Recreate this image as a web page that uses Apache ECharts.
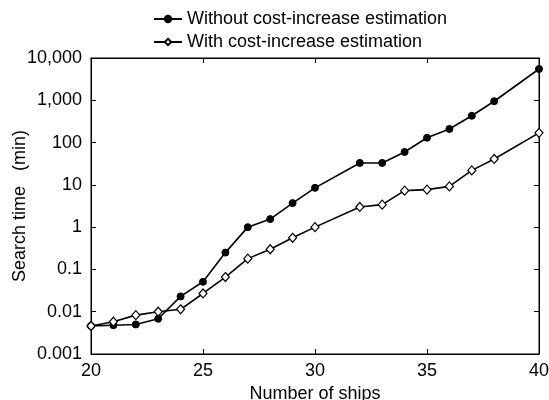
<!DOCTYPE html>
<html><head><meta charset="utf-8">
<script src="https://cdn.jsdelivr.net/npm/echarts@6/dist/echarts.min.js"></script>
<style>html,body{margin:0;padding:0;background:#fff}#c{width:549px;height:400px}</style>
</head><body><div id="c"></div>
<script>
const shipsWithout = [20,21,22,23,24,25,26,27,28,29,30,32,33,34,35,36,37,38,40];
const timeWithout = [0.0046,0.0048,0.005,0.0068,0.023,0.051,0.25,1.0,1.55,3.7,8.5,33,33,60,130,210,430,950,5500];
const shipsWith = [20,21,22,23,24,25,26,27,28,29,30,32,33,34,35,36,37,38,40];
const timeWith = [0.0046,0.0058,0.0083,0.01,0.0114,0.027,0.066,0.18,0.30,0.56,1.0,3.0,3.4,7.3,7.7,9.2,22,41,170];
const yTickLabels = {"0.001":"0.001","0.01":"0.01","0.1":"0.1","1":"1","10":"10","100":"100","1000":"1,000","10000":"10,000"};
const xTicks = [20,25,30,35,40];

const font = "Liberation Sans, Arial, sans-serif";
const chart = echarts.init(document.getElementById('c'), null, {renderer:'canvas'});
function pairs(xs, ys){ return xs.map((x,i)=>[x, ys[i]]); }
function fmtY(v){
  const k = String(Number(v.toPrecision(6)));
  return yTickLabels[k] !== undefined ? yTickLabels[k] : '';
}
const axisLine = {show:true, lineStyle:{color:'#000', width:1}};
chart.setOption({
  animation:false,
  backgroundColor:'#fff',
  grid:{left:91, right:10, top:58, bottom:46, outerBoundsMode:'none', containLabel:false, show:true, borderColor:'#000', borderWidth:1, backgroundColor:'transparent'},
  legend:{
    orient:'vertical', left:148, top:5, itemGap:5, itemWidth:28, itemHeight:8,
    textStyle:{fontFamily:font, fontSize:18, color:'#000'},
    data:['Without cost-increase estimation','With cost-increase estimation']
  },
  xAxis:[{
    type:'value', min:xTicks[0], max:xTicks[xTicks.length-1], interval:5,
    name:'Number of ships', nameLocation:'middle', nameGap:31, nameMoveOverlap:false,
    nameTextStyle:{fontFamily:font, fontSize:18, color:'#000'},
    axisLine:axisLine, axisTick:{show:true, inside:true, length:5, lineStyle:{color:'#000'}},
    axisLabel:{fontFamily:font, fontSize:18, color:'#000', margin:8},
    splitLine:{show:false}
  },{
    type:'value', position:'top', min:20, max:40, interval:5,
    axisLine:axisLine, axisTick:{show:true, inside:true, length:5, lineStyle:{color:'#000'}},
    axisLabel:{show:false}, splitLine:{show:false}
  }],
  yAxis:[{
    type:'log', logBase:10, min:0.001, max:10000,
    name:'Search time   (min)', nameLocation:'middle', nameGap:62, nameRotate:90, nameMoveOverlap:false,
    nameTextStyle:{fontFamily:font, fontSize:18, color:'#000'},
    axisLine:axisLine, axisTick:{show:true, inside:true, length:5, lineStyle:{color:'#000'}},
    axisLabel:{fontFamily:font, fontSize:18, color:'#000', margin:9, formatter:fmtY},
    minorTick:{show:false}, splitLine:{show:false}
  },{
    type:'log', logBase:10, min:0.001, max:10000, position:'right',
    axisLine:axisLine, axisTick:{show:true, inside:true, length:5, lineStyle:{color:'#000'}},
    axisLabel:{show:false}, splitLine:{show:false}
  }],
  series:[{
    name:'Without cost-increase estimation', type:'line',
    data:pairs(shipsWithout, timeWithout),
    symbol:'circle', symbolSize:7,
    itemStyle:{color:'#000', borderColor:'#000', borderWidth:1},
    lineStyle:{color:'#000', width:1.6}, z:3
  },{
    name:'With cost-increase estimation', type:'line',
    data:pairs(shipsWith, timeWith),
    symbol:'diamond', symbolSize:[8,9],
    itemStyle:{color:'#fff', borderColor:'#000', borderWidth:1.2},
    lineStyle:{color:'#000', width:1.6}, z:4
  }]
});
</script></body></html>
